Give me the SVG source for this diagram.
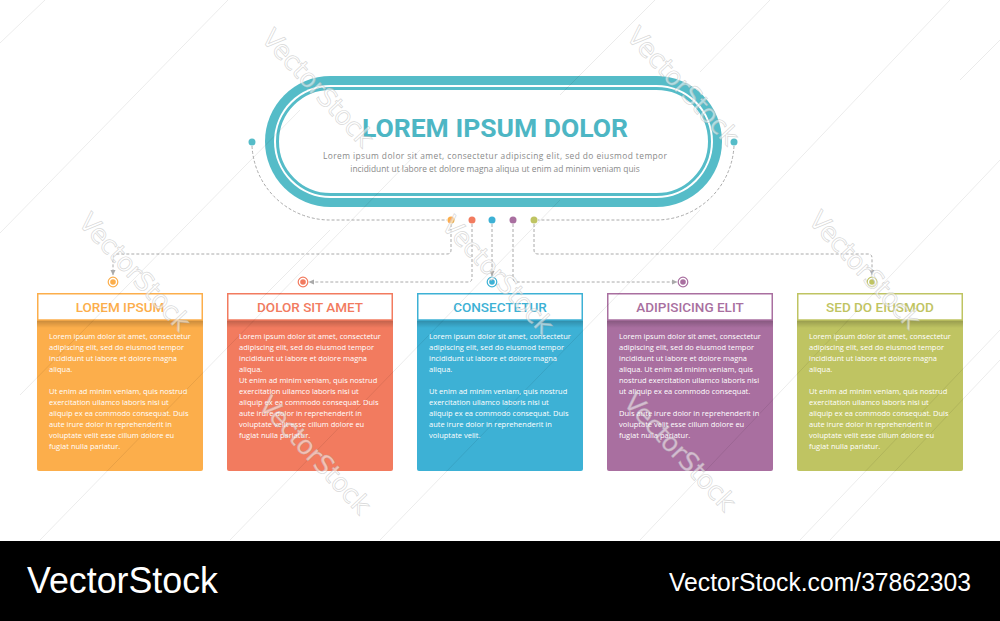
<svg xmlns="http://www.w3.org/2000/svg" width="1000" height="621" viewBox="0 0 1000 621">
<style>
.title{font-family:Roboto,"Liberation Sans",sans-serif;font-weight:700;font-size:26.5px;fill:#4db6c4}
.sub{font-family:"Open Sans","Liberation Sans",sans-serif;font-size:8.4px;fill:#8a8a8a}
.head{font-family:Roboto,"Liberation Sans",sans-serif;font-weight:500;font-size:13.5px;text-anchor:middle}
.body{font-family:"Open Sans","Liberation Sans",sans-serif;font-size:7.5px;fill:#ffffff}
.dash{fill:none;stroke:#aaaaaa;stroke-width:1;stroke-dasharray:3 2}
.wm{font-family:"DejaVu Sans",sans-serif;font-size:26px;fill:#ffffff;fill-opacity:0.55;stroke:#b0b0b0;stroke-opacity:0.5;stroke-width:0.7}
.wl{stroke:#000;stroke-opacity:0.1;stroke-width:0.8;fill:none}
</style>
<defs>
<marker id="arr" viewBox="0 0 6 6" refX="5" refY="3" markerWidth="6" markerHeight="6" markerUnits="userSpaceOnUse" orient="auto">
<path d="M0,0.5 L5.5,3 L0,5.5 Z" fill="#aaaaaa"/>
</marker>
<linearGradient id="shadow" x1="0" y1="0" x2="0" y2="1">
<stop offset="0" stop-color="#000" stop-opacity="0.22"/>
<stop offset="1" stop-color="#000" stop-opacity="0"/>
</linearGradient>
<linearGradient id="hline" x1="0" y1="0" x2="1" y2="0">
<stop offset="0" stop-color="#999" stop-opacity="0"/>
<stop offset="0.08" stop-color="#999" stop-opacity="0.7"/>
<stop offset="0.92" stop-color="#999" stop-opacity="0.7"/>
<stop offset="1" stop-color="#999" stop-opacity="0"/>
</linearGradient>
</defs>
<rect width="1000" height="621" fill="#ffffff"/>

<g id="header-node">
<rect x="265" y="76" width="457" height="131" rx="65.5" fill="#55bcc8"/>
<rect x="274" y="85" width="439" height="113" rx="56.5" fill="#ffffff"/>
<rect x="277.5" y="88.5" width="432" height="106" rx="53" fill="none" stroke="#55bcc8" stroke-width="3"/>
<text class="title" x="495" y="137" text-anchor="middle">LOREM IPSUM DOLOR</text>
<text class="sub" x="495" y="159" text-anchor="middle" textLength="344" lengthAdjust="spacing">Lorem ipsum dolor sit amet, consectetur adipiscing elit, sed do eiusmod tempor</text>
<text class="sub" x="495" y="172" text-anchor="middle">incididunt ut labore et dolore magna aliqua ut enim ad minim veniam quis</text>
<circle cx="252" cy="142" r="3.5" fill="#55bcc8"/>
<circle cx="734" cy="142" r="3.5" fill="#55bcc8"/>
</g>

<g id="connectors">
<path class="dash" d="M252,146 A78,78 0 0 0 330,220 H447"/>
<path class="dash" d="M734,146 A78,78 0 0 1 656,220 H538"/>
<path class="dash" d="M451,224 V250 Q451,254 447,254 H117 Q113,254 113,258 V275" marker-end="url(#arr)"/>
<path class="dash" d="M472,224 V278 Q472,282 468,282 H309" marker-end="url(#arr)"/>
<path class="dash" d="M492,224 V276" marker-end="url(#arr)"/>
<path class="dash" d="M513,224 V278 Q513,282 517,282 H677" marker-end="url(#arr)"/>
<path class="dash" d="M534,224 V250 Q534,254 538,254 H868 Q872,254 872,258 V275" marker-end="url(#arr)"/>
<circle cx="451" cy="220" r="3.5" fill="#fcae4b"/>
<circle cx="472" cy="220" r="3.5" fill="#f27b5f"/>
<circle cx="492" cy="220" r="3.5" fill="#3db1d5"/>
<circle cx="513" cy="220" r="3.5" fill="#a96fa0"/>
<circle cx="534" cy="220" r="3.5" fill="#bfc462"/>
</g>

<g id="node-1">
<circle cx="113" cy="282" r="4.8" fill="#fff" stroke="#fcae4b" stroke-width="1.2"/>
<circle cx="113" cy="282" r="2.8" fill="#fcae4b"/>
<rect x="37" y="319" width="166" height="152" rx="2" fill="#fcae4b"/>
<rect x="37" y="320" width="166" height="8" fill="url(#shadow)"/>
<line x1="29" y1="320.5" x2="211" y2="320.5" stroke="url(#hline)" stroke-width="0.8"/>
<rect x="37.75" y="293.75" width="164.5" height="26.25" fill="#fff" stroke="#fcae4b" stroke-width="1.5"/>
<text class="head" x="120" y="312" fill="#fcae4b">LOREM IPSUM</text>
<text class="body" x="49" y="339"><tspan x="49">Lorem ipsum dolor sit amet, consectetur</tspan><tspan x="49" dy="11">adipiscing elit, sed do eiusmod tempor</tspan><tspan x="49" dy="11">incididunt ut labore et dolore magna</tspan><tspan x="49" dy="11">aliqua.</tspan><tspan x="49" dy="22">Ut enim ad minim veniam, quis nostrud</tspan><tspan x="49" dy="11">exercitation ullamco laboris nisi ut</tspan><tspan x="49" dy="11">aliquip ex ea commodo consequat. Duis</tspan><tspan x="49" dy="11">aute irure dolor in reprehenderit in</tspan><tspan x="49" dy="11">voluptate velit esse cillum dolore eu</tspan><tspan x="49" dy="11">fugiat nulla pariatur.</tspan></text>
</g>

<g id="node-2">
<circle cx="303" cy="282" r="4.8" fill="#fff" stroke="#f27b5f" stroke-width="1.2"/>
<circle cx="303" cy="282" r="2.8" fill="#f27b5f"/>
<rect x="227" y="319" width="166" height="152" rx="2" fill="#f27b5f"/>
<rect x="227" y="320" width="166" height="8" fill="url(#shadow)"/>
<line x1="219" y1="320.5" x2="401" y2="320.5" stroke="url(#hline)" stroke-width="0.8"/>
<rect x="227.75" y="293.75" width="164.5" height="26.25" fill="#fff" stroke="#f27b5f" stroke-width="1.5"/>
<text class="head" x="310" y="312" fill="#f27b5f">DOLOR SIT AMET</text>
<text class="body" x="239" y="339"><tspan x="239">Lorem ipsum dolor sit amet, consectetur</tspan><tspan x="239" dy="11">adipiscing elit, sed do eiusmod tempor</tspan><tspan x="239" dy="11">incididunt ut labore et dolore magna</tspan><tspan x="239" dy="11">aliqua.</tspan><tspan x="239" dy="11">Ut enim ad minim veniam, quis nostrud</tspan><tspan x="239" dy="11">exercitation ullamco laboris nisi ut</tspan><tspan x="239" dy="11">aliquip ex ea commodo consequat. Duis</tspan><tspan x="239" dy="11">aute irure dolor in reprehenderit in</tspan><tspan x="239" dy="11">voluptate velit esse cillum dolore eu</tspan><tspan x="239" dy="11">fugiat nulla pariatur.</tspan></text>
</g>

<g id="node-3">
<circle cx="492" cy="282" r="4.8" fill="#fff" stroke="#3db1d5" stroke-width="1.2"/>
<circle cx="492" cy="282" r="2.8" fill="#3db1d5"/>
<rect x="417" y="319" width="166" height="152" rx="2" fill="#3db1d5"/>
<rect x="417" y="320" width="166" height="8" fill="url(#shadow)"/>
<line x1="409" y1="320.5" x2="591" y2="320.5" stroke="url(#hline)" stroke-width="0.8"/>
<rect x="417.75" y="293.75" width="164.5" height="26.25" fill="#fff" stroke="#3db1d5" stroke-width="1.5"/>
<text class="head" x="500" y="312" fill="#3db1d5">CONSECTETUR</text>
<text class="body" x="429" y="339"><tspan x="429">Lorem ipsum dolor sit amet, consectetur</tspan><tspan x="429" dy="11">adipiscing elit, sed do eiusmod tempor</tspan><tspan x="429" dy="11">incididunt ut labore et dolore magna</tspan><tspan x="429" dy="11">aliqua.</tspan><tspan x="429" dy="22">Ut enim ad minim veniam, quis nostrud</tspan><tspan x="429" dy="11">exercitation ullamco laboris nisi ut</tspan><tspan x="429" dy="11">aliquip ex ea commodo consequat. Duis</tspan><tspan x="429" dy="11">aute irure dolor in reprehenderit in</tspan><tspan x="429" dy="11">voluptate velit.</tspan></text>
</g>

<g id="node-4">
<circle cx="683" cy="282" r="4.8" fill="#fff" stroke="#a96fa0" stroke-width="1.2"/>
<circle cx="683" cy="282" r="2.8" fill="#a96fa0"/>
<rect x="607" y="319" width="166" height="152" rx="2" fill="#a96fa0"/>
<rect x="607" y="320" width="166" height="8" fill="url(#shadow)"/>
<line x1="599" y1="320.5" x2="781" y2="320.5" stroke="url(#hline)" stroke-width="0.8"/>
<rect x="607.75" y="293.75" width="164.5" height="26.25" fill="#fff" stroke="#a96fa0" stroke-width="1.5"/>
<text class="head" x="690" y="312" fill="#a96fa0">ADIPISICING ELIT</text>
<text class="body" x="619" y="339"><tspan x="619">Lorem ipsum dolor sit amet, consectetur</tspan><tspan x="619" dy="11">adipiscing elit, sed do eiusmod tempor</tspan><tspan x="619" dy="11">incididunt ut labore et dolore magna</tspan><tspan x="619" dy="11">aliqua. Ut enim ad minim veniam, quis</tspan><tspan x="619" dy="11">nostrud exercitation ullamco laboris nisi</tspan><tspan x="619" dy="11">ut aliquip ex ea commodo consequat.</tspan><tspan x="619" dy="22">Duis aute irure dolor in reprehenderit in</tspan><tspan x="619" dy="11">voluptate velit esse cillum dolore eu</tspan><tspan x="619" dy="11">fugiat nulla pariatur.</tspan></text>
</g>

<g id="node-5">
<circle cx="872" cy="282" r="4.8" fill="#fff" stroke="#bfc462" stroke-width="1.2"/>
<circle cx="872" cy="282" r="2.8" fill="#bfc462"/>
<rect x="797" y="319" width="166" height="152" rx="2" fill="#bfc462"/>
<rect x="797" y="320" width="166" height="8" fill="url(#shadow)"/>
<line x1="789" y1="320.5" x2="971" y2="320.5" stroke="url(#hline)" stroke-width="0.8"/>
<rect x="797.75" y="293.75" width="164.5" height="26.25" fill="#fff" stroke="#bfc462" stroke-width="1.5"/>
<text class="head" x="880" y="312" fill="#bfc462">SED DO EIUSMOD</text>
<text class="body" x="809" y="339"><tspan x="809">Lorem ipsum dolor sit amet, consectetur</tspan><tspan x="809" dy="11">adipiscing elit, sed do eiusmod tempor</tspan><tspan x="809" dy="11">incididunt ut labore et dolore magna</tspan><tspan x="809" dy="11">aliqua.</tspan><tspan x="809" dy="22">Ut enim ad minim veniam, quis nostrud</tspan><tspan x="809" dy="11">exercitation ullamco laboris nisi ut</tspan><tspan x="809" dy="11">aliquip ex ea commodo consequat. Duis</tspan><tspan x="809" dy="11">aute irure dolor in reprehenderit in</tspan><tspan x="809" dy="11">voluptate velit esse cillum dolore eu</tspan><tspan x="809" dy="11">fugiat nulla pariatur.</tspan></text>
</g>

<g id="watermark">
<path class="wl" d="M0,43 L45,0 M0,233 L228,0 M20,395 L300,110 M40,540 L420,150 M230,540 L560,200 M560,95 L655,0 M700,72 L770,0 M713,250 L950,0 M640,540 L1000,160 M800,540 L1000,330 M830,540 L1000,360 M380,540 L700,210 M260,300 L330,230 M1000,40 L960,80"/>
<text class="wm" transform="translate(318,88) rotate(47)" text-anchor="middle" y="9" textLength="150">VectorStock</text>
<text class="wm" transform="translate(683,86) rotate(47)" text-anchor="middle" y="9" textLength="150">VectorStock</text>
<text class="wm" transform="translate(135,272) rotate(47)" text-anchor="middle" y="9" textLength="150">VectorStock</text>
<text class="wm" transform="translate(498,275) rotate(47)" text-anchor="middle" y="9" textLength="150">VectorStock</text>
<text class="wm" transform="translate(865,270) rotate(47)" text-anchor="middle" y="9" textLength="150">VectorStock</text>
<text class="wm" transform="translate(315,455) rotate(47)" text-anchor="middle" y="9" textLength="150">VectorStock</text>
<text class="wm" transform="translate(680,452) rotate(47)" text-anchor="middle" y="9" textLength="150">VectorStock</text>
</g>

<g id="footer">
<rect x="0" y="541" width="1000" height="80" fill="#000000"/>
<text x="27" y="593" font-family="Liberation Sans, Arial, sans-serif" font-size="36" fill="#ffffff" textLength="191" lengthAdjust="spacingAndGlyphs">VectorStock</text>
<text x="669" y="591" font-family="Liberation Sans, Arial, sans-serif" font-size="25" fill="#ffffff" textLength="302" lengthAdjust="spacingAndGlyphs">VectorStock.com/37862303</text>
</g>
</svg>
